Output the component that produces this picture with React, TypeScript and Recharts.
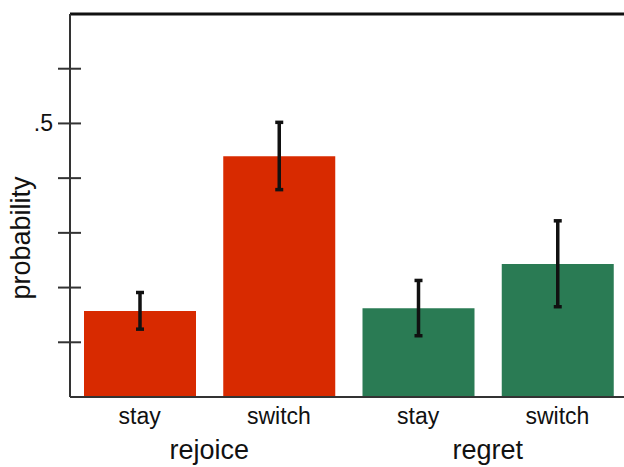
import React from 'react';
import {
  BarChart,
  Bar,
  Cell,
  XAxis,
  YAxis,
  ErrorBar,
  ReferenceLine,
  Label,
} from 'recharts';

const categories = ['stay', 'switch', 'stay', 'switch'];
const groups = ['rejoice', 'rejoice', 'regret', 'regret'];
const values = [0.157, 0.44, 0.162, 0.243];
const lower = [0.124, 0.379, 0.112, 0.165];
const upper = [0.191, 0.502, 0.213, 0.322];
const barColors = ['#d82a00', '#d82a00', '#2a7b54', '#2a7b54'];
const yTicks = [0.1, 0.2, 0.3, 0.4, 0.5, 0.6];

const rows = categories.map((label, i) => ({
  label,
  group: groups[i],
  value: values[i],
  err: [values[i] - lower[i], upper[i] - values[i]],
}));

const font = '"Liberation Sans", Arial, sans-serif';

// tick mark crosses the axis line; only .5 gets a label
const YTick = (props: any) => {
  const { x, y, payload } = props;
  return (
    <g>
      <line x1={x - 12} x2={x + 11} y1={y} y2={y} stroke="#333" strokeWidth={2} />
      {payload.value === 0.5 && (
        <text x={x - 17} y={y + 8} textAnchor="end" fontSize={23} fill="#111" fontFamily={font}>
          .5
        </text>
      )}
    </g>
  );
};

const App: React.FC = () => {
  return (
    <div
      style={{
        position: 'absolute',
        left: 0,
        top: 0,
        width: 624,
        height: 467,
        overflow: 'hidden',
        background: '#fff',
      }}
    >
      <BarChart
        width={640}
        height={467}
        data={rows}
        margin={{ top: 14, right: 13, left: 10, bottom: 0 }}
        barSize={112}
      >
        <XAxis
          dataKey="label"
          height={30}
          tickLine={false}
          tickSize={0}
          tickMargin={11}
          axisLine={{ stroke: '#333', strokeWidth: 2 }}
          tick={{ fontSize: 23, fill: '#111', fontFamily: font }}
          interval={0}
        />
        <XAxis
          xAxisId="group"
          dataKey="group"
          allowDuplicatedCategory={false}
          height={40}
          axisLine={false}
          tickLine={false}
          tickSize={0}
          tickMargin={13}
          tick={{ fontSize: 27, fill: '#111', fontFamily: font }}
          interval={0}
        />
        <YAxis
          width={60}
          domain={[0, 0.7]}
          ticks={yTicks}
          allowDataOverflow
          tickLine={false}
          tickSize={0}
          tickMargin={0}
          axisLine={{ stroke: '#333', strokeWidth: 2 }}
          tick={<YTick />}
        >
          <Label
            content={() => (
              <text
                x={30}
                y={238}
                transform="rotate(-90 30 238)"
                textAnchor="middle"
                fontSize={27}
                fill="#111"
                fontFamily={font}
              >
                probability
              </text>
            )}
          />
        </YAxis>
        <ReferenceLine y={0.7} stroke="#111" strokeWidth={3} />
        <Bar dataKey="value" isAnimationActive={false}>
          {rows.map((r, i) => (
            <Cell key={i} fill={barColors[i]} />
          ))}
          <ErrorBar
            dataKey="err"
            direction="y"
            width={4}
            strokeWidth={3.5}
            stroke="#111"
            isAnimationActive={false}
          />
        </Bar>
      </BarChart>
    </div>
  );
};

export default App;
